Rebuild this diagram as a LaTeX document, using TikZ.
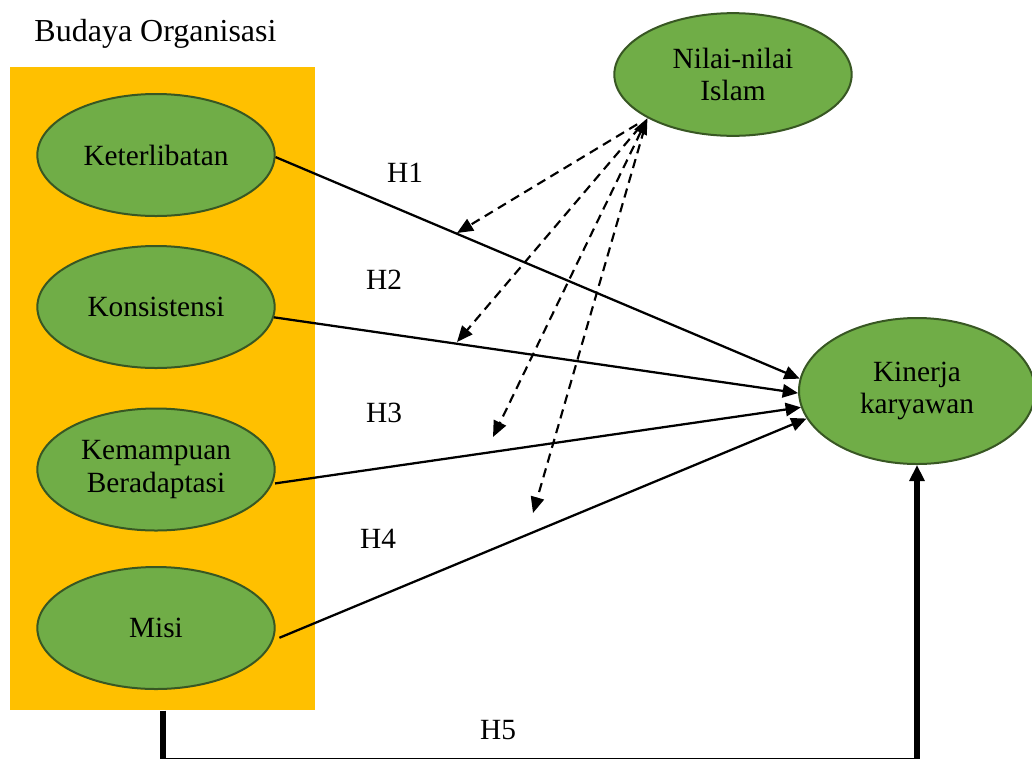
\documentclass[tikz,border=0pt]{standalone}
\usepackage{fontspec}
\setmainfont{Liberation Serif}
\usetikzlibrary{arrows.meta,shapes.geometric}
\definecolor{budaya}{RGB}{255,192,0}
\definecolor{hijau}{RGB}{112,173,71}
\definecolor{garis}{RGB}{56,87,35}
\tikzset{every picture/.style={line width=0.75pt}}
\tikzset{
  varbl/.style={ellipse, draw=garis, line width=1.5pt, fill=hijau, inner sep=0pt,
    align=center, font=\fontsize{22}{24.5}\selectfont},
  hlabel/.style={anchor=base, inner sep=0.75pt, font=\fontsize{22}{24}\selectfont},
  panah/.style={line width=1.7pt, -{Triangle[length=11.5pt,width=10pt]}},
  moderasi/.style={line width=1.6pt, dash pattern=on 7pt off 4.5pt,
    -{Triangle[length=12pt,width=10pt]}},
}

\begin{document}
\begin{tikzpicture}[x=0.75pt,y=0.75pt,yscale=-1,xscale=1]
\useasboundingbox (0,0) rectangle (1032,758);

%Rectangle [budaya organisasi]
\node [fill=budaya, inner sep=0pt, minimum width=228.75pt, minimum height=482.25pt] (bud) at (162.5,388.5) {};

% Text Node
\node [hlabel, font=\fontsize{24}{26}\selectfont] (judul) at (155.5,41) {Budaya Organisasi};

%Ellipses
\node [varbl, minimum width=178pt, minimum height=91.5pt] (ket) at (156,155) {Keterlibatan};
\node [varbl, minimum width=178pt, minimum height=91.5pt] (kon) at (156,307) {Konsistensi};
\node [varbl, minimum width=178pt, minimum height=91.5pt] (kem) at (156,469.5) {Kemampuan\\Beradaptasi};
\node [varbl, minimum width=178pt, minimum height=91.5pt] (mis) at (156,628) {Misi};
\node [varbl, minimum width=178pt, minimum height=92pt] (nil) at (733,74.5) {Nilai-nilai\\Islam};
\node [varbl, minimum width=177pt, minimum height=109.5pt] (kin) at (917,391) {Kinerja\\karyawan};

%Straight Lines
\draw [panah] (ket.-1) -- (kin.174);
\draw [panah] (kon.-5) -- (kin.181);
\draw [panah, shorten <=2pt] (kem.-7) -- (kin.188);
\draw [panah, shorten <=5pt] (mis.-6) -- (kin.194);

%Dashed Lines
\coordinate (m1) at (457,233);
\coordinate (m2) at (457,342);
\coordinate (m3) at (493,437);
\coordinate (m4) at (533,513);
\draw [moderasi, shorten <=9pt] (nil.207) -- (m1);
\draw [moderasi, shorten <=9pt] (nil.207) -- (m2);
\draw [moderasi, {Triangle[length=12pt,width=10pt]}-{Triangle[length=12pt,width=10pt]}] (nil.207) -- (m3);
\draw [moderasi, shorten <=9pt] (nil.207) -- (m4);

%Thick Line
\draw [line width=4.5pt, -{Triangle[length=12pt,width=11pt]}] (bud.south) -- ++(0,50.5) -| (kin.south);

% Text Node
\node [hlabel] (h1) at (405,182) {H1};
\node [hlabel] (h2) at (384,289) {H2};
\node [hlabel] (h3) at (384,422) {H3};
\node [hlabel] (h4) at (378,548) {H4};
\node [hlabel] (h5) at (498,739) {H5};

\end{tikzpicture}
\end{document}
